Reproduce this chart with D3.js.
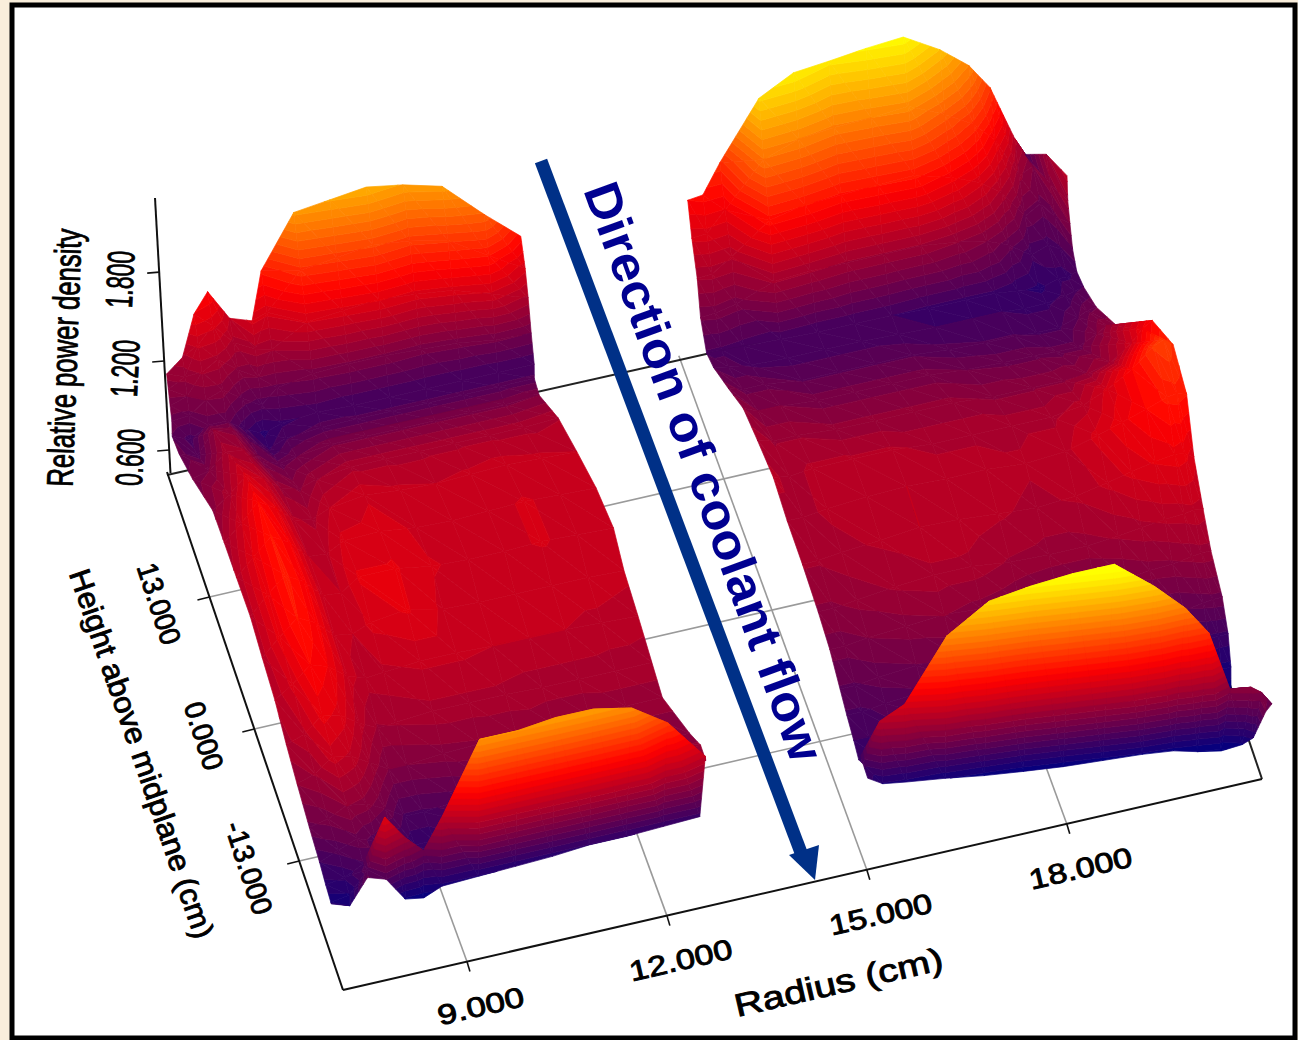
<!DOCTYPE html>
<html>
<head>
<meta charset="utf-8">
<style>
html, body { margin: 0; padding: 0; background: #f9eedb; }
svg { display: block; }
text { font-family: "Liberation Sans", Arial, sans-serif; fill: #000; }
</style>
<script src="https://cdn.jsdelivr.net/npm/d3@7"></script>
</head>
<body>
<svg id="chart" width="1298" height="1040"></svg>
<script>
// Axis ticks
const radiusTicks = [9, 12, 15, 18];
const heightTicks = [13, 0, -13];
const densityTicks = [0.6, 1.2, 1.8];

// Left plate: column fractions across the plate, heights of the inner rows (cm)
const leftColumns = [0, .05, .1, .15, .2, .25, .3, .4, .5, .6, .7, .8, .9, 1];
const leftHeights = [24, 22, 19, 15, 11, 7, 3, -1, -5, -9, -12, -15, -17, -18.5];
const leftBack = [28, 28.5, 30, 31.2, 30.4, 29, 31.3, 31.8, 31.8, 31.8, 31.8, 31, 29.5, 29.5];
const leftCrest = [-19.5, -19.5, -19.5, -19.5, -19.5, -19.5, -19.5, -20, -20, -20, -20, -20, -19.5, -19.5];
const leftFront = [-20.5, -20.5, -20.5, -20.5, -20.5, -20.5, -20.5, -20.5, -20.5, -20.5, -20.5, -20.5, -20.5, -20.5];
const leftInner = [7.33, 7.3, 7.27, 7.24, 7.19, 7.19, 7.24, 7.34, 7.31, 7.29, 7.29, 7.26, 7.24, 7.2, 7.2, 7.22, 7.26, 7.27, 7.29, 7.25];
const leftOuter = [12.69, 12.68, 12.65, 12.62, 12.59, 12.49, 12.41, 12.49, 12.56, 12.64, 12.69, 12.64, 12.64, 12.64, 12.64, 12.89, 12.95, 12.95, 12.89, 12.76];
const leftDensity = [
  [.95, 1.0, 1.16, 1.2, 1.05, 1.1, 1.25, 1.55, 1.58, 1.61, 1.57, 1.56, 1.42, 1.22],
  [.92, .95, 1.06, 1.1, 1.0, 1.0, 1.1, 1.3, 1.33, 1.36, 1.33, 1.32, 1.24, 1.1],
  [.88, .9, .98, 1.0, .93, .9, .98, 1.09, 1.11, 1.13, 1.11, 1.11, 1.08, 1.0],
  [.85, .85, .9, .92, .85, .8, .85, .88, .89, .89, .88, .88, .87, .86],
  [.82, .77, .84, .84, .76, .7, .74, .76, .75, .75, .75, .75, .75, .75],
  [.84, .8, .94, .92, .82, .74, .78, .8, .8, .8, .8, .8, .8, .8],
  [.87, .9, 1.0, .98, .88, .84, .86, .89, .89, .89, .89, .89, .89, .9],
  [.92, 1.0, 1.1, 1.05, .96, .93, .97, 1.0, 1.0, 1.0, 1.0, 1.0, 1.0, 1.01],
  [.98, 1.08, 1.2, 1.13, 1.02, 1.0, 1.05, 1.08, 1.06, 1.05, 1.06, 1.07, 1.06, 1.05],
  [1.02, 1.13, 1.24, 1.17, 1.05, 1.04, 1.1, 1.11, 1.08, 1.07, 1.08, 1.09, 1.08, 1.07],
  [1.03, 1.15, 1.25, 1.18, 1.06, 1.05, 1.13, 1.13, 1.09, 1.08, 1.08, 1.09, 1.08, 1.07],
  [1.03, 1.14, 1.24, 1.18, 1.07, 1.05, 1.1, 1.13, 1.08, 1.07, 1.07, 1.07, 1.07, 1.06],
  [1.02, 1.1, 1.2, 1.16, 1.07, 1.03, 1.04, 1.06, 1.06, 1.05, 1.05, 1.05, 1.04, 1.03],
  [1.0, 1.04, 1.14, 1.11, 1.03, .97, .98, 1.0, 1.0, 1.0, .99, .99, .99, .99],
  [.94, .98, 1.07, 1.04, .97, .9, .9, .92, .93, .94, .95, .95, .96, .96],
  [.85, .88, .94, .92, .86, .78, .78, .8, .84, .86, .88, .9, .9, .9],
  [.75, .8, .85, .8, .74, .72, .72, .78, .82, .84, .86, .88, .9, .95],
  [.7, .72, .78, .8, .78, .72, .72, .9, .9, .9, .9, .9, .9, .95],
  [.65, .67, .81, 1.13, .97, .85, 1.04, 1.54, 1.54, 1.57, 1.57, 1.52, 1.33, 1.05],
  [.71, .67, .83, .79, .63, .61, .66, .67, .68, .69, .71, .71, .72, .73]
];

// Right plate
const rightColumns = [0, .04, .1, .2, .3, .4, .5, .6, .7, .78, .84, .9, .95, .975, 1];
const rightHeights = [21, 19, 16, 13, 9, 5, 1, -3, -7, -10, -13, -15, -17, -18.5];
const rightBack = [29.6, 29.5, 31, 30.6, 31.4, 32, 32, 32, 32, 32, 32, 30.8, 32.5, 29.5, 26.3];
const rightCrest = [-19.5, -19.5, -19.7, -19.9, -20.2, -20.5, -20.9, -21.3, -21.7, -21.9, -22.2, -22.5, -22.9, -23.2, -23.5];
const rightFront = [-20.5, -20.5, -20.7, -20.9, -21.2, -21.5, -21.9, -22.3, -22.7, -22.9, -23.2, -23.5, -23.9, -24.2, -24.5];
const rightInner = [15.17, 15.12, 15.09, 15.03, 15.01, 15.01, 15.07, 15.14, 15.14, 15.17, 15.17, 15.19, 15.22, 15.24, 15.24, 15.24, 15.24, 15.24, 15.25, 15.27];
const rightOuter = [20.64, 20.59, 20.56, 20.54, 20.54, 20.54, 20.56, 20.69, 20.99, 21.08, 21.08, 21.0, 20.94, 20.91, 20.94, 20.94, 20.89, 20.82, 21.14, 20.99];
const rightDensity = [
  [1.2, 1.22, 1.3, 1.7, 1.76, 1.74, 1.77, 1.79, 1.65, 1.5, 1.32, 1.03, .78, .97, 1.03],
  [1.1, 1.11, 1.16, 1.46, 1.5, 1.49, 1.5, 1.52, 1.41, 1.3, 1.16, .95, .9, .92, .96],
  [.98, .99, 1.02, 1.22, 1.24, 1.23, 1.24, 1.25, 1.18, 1.1, 1.0, .85, .85, .85, .9],
  [.87, .88, .88, .98, .98, .97, .97, .97, .94, .9, .84, .76, .77, .78, .82],
  [.78, .78, .77, .76, .75, .75, .75, .74, .74, .74, .72, .7, .74, .74, .76],
  [.82, .8, .78, .77, .77, .77, .76, .75, .75, .75, .74, .74, .76, .78, .79],
  [.88, .85, .85, .82, .82, .82, .82, .8, .79, .79, .78, .78, .82, .85, .86],
  [.94, .9, .9, .88, .88, .88, .88, .86, .85, .85, .84, .84, .9, .94, .93],
  [1.0, .97, .97, .95, .95, .95, .95, .93, .93, .93, .94, .98, 1.08, 1.16, 1.2],
  [1.02, 1.0, 1.02, 1.02, 1.02, 1.0, 1.0, 1.0, 1.0, 1.03, 1.1, 1.2, 1.32, 1.35, 1.3],
  [1.0, 1.0, 1.02, 1.04, 1.05, 1.04, 1.04, 1.02, 1.04, 1.1, 1.15, 1.2, 1.25, 1.26, 1.24],
  [.98, .98, 1.0, 1.02, 1.05, 1.04, 1.02, 1.0, 1.02, 1.06, 1.1, 1.13, 1.15, 1.14, 1.1],
  [.93, .93, .95, .98, 1.0, 1.0, .97, .96, .96, .98, 1.0, 1.02, 1.03, 1.04, 1.03],
  [.88, .88, .9, .92, .94, .92, .9, .88, .88, .9, .92, .93, .95, .96, .96],
  [.82, .82, .84, .86, .87, .85, .84, .82, .8, .82, .82, .82, .84, .85, .85],
  [.78, .78, .8, .82, .84, .82, .8, .78, .76, .76, .74, .74, .74, .74, .74],
  [.75, .75, .78, .8, .8, .78, .76, .74, .72, .72, .7, .7, .68, .66, .66],
  [.72, .74, .76, .78, .78, .76, .74, .72, .7, .7, .68, .66, .64, .62, .62],
  [.76, 1.02, 1.11, 1.52, 1.71, 1.77, 1.82, 1.85, 1.67, 1.49, 1.31, .92, .93, .9, .83],
  [.73, .67, .66, .64, .62, .61, .61, .62, .63, .62, .6, .59, .63, .68, .86]
];

const wallFractions = [1, .75, .5, .25];
const bandCount = 32;

const svg = d3.select("#chart");

// Frame
svg.append("rect")
	.attr("x", 12).attr("y", 5).attr("width", 1283).attr("height", 1033)
	.attr("fill", "#fff").attr("stroke", "#000").attr("stroke-width", 5);

// Oblique projection, floor point plus height
const radiusX = d3.scaleLinear().domain([7.14, 20.93]).range([0, 919]);
const radiusY = d3.scaleLinear().domain([7.14, 20.93]).range([0, -211]);
const heightX = d3.scaleLinear().domain([-25.7, 25.3]).range([0, -176]);
const heightY = d3.scaleLinear().domain([-25.7, 25.3]).range([0, -518]);
const densityLift = d3.scaleLinear().domain([.5, 2.33]).range([0, 275]);
const originX = 343, originY = 990, leanCentre = 650, lean = .000115;

function project(r, h, z) {
	const fx = originX + radiusX(r) + heightX(h);
	const fy = originY + radiusY(r) + heightY(h);
	const lift = densityLift(z);
	return {x: fx + (fx - leanCentre) * lean * lift, y: fy - lift, z: z};
}

const colour = d3.scaleLinear()
	.domain([.6, 1.2, 1.8])
	.range(["#000080", "#ff0000", "#ffff00"])
	.clamp(true);
const bandSize = 1.2 / bandCount;

// Clip a polygon to lo <= z <= hi
function clipBand(poly, lo, hi) {
	function clip(pts, inside, level) {
		const out = [];
		pts.forEach((p, i) => {
			const q = pts[(i + 1) % pts.length];
			if (inside(p)) out.push(p);
			if (inside(p) !== inside(q)) {
				const t = (level - p.z) / (q.z - p.z);
				out.push({x: p.x + t * (q.x - p.x), y: p.y + t * (q.y - p.y), z: level});
			}
		});
		return out;
	}
	let res = clip(poly, p => p.z >= lo, lo);
	if (res.length) res = clip(res, p => p.z <= hi, hi);
	return res;
}

const gridLayer = svg.append("g").attr("class", "grid");
const surfaceLayer = svg.append("g").attr("class", "surface");
const axisLayer = svg.append("g").attr("class", "axes");

const rMin = 7.14, rMax = 20.93, hMin = -25.7, hMax = 25.3;

function line(g, a, b, stroke, width) {
	g.append("line")
		.attr("x1", a.x).attr("y1", a.y).attr("x2", b.x).attr("y2", b.y)
		.attr("stroke", stroke).attr("stroke-width", width);
}

// Floor grid, far ends pulled a little to follow the slight perspective
radiusTicks.forEach(r => {
	const far = project(r, hMax, .5);
	line(gridLayer, project(r, hMin, .5), {x: far.x - 12, y: far.y + 4}, "#9a9a9a", 1.6);
});
heightTicks.forEach(h => line(gridLayer, project(rMin, h, .5), project(rMax, h, .5), "#9a9a9a", 1.6));
const backLeft = project(rMin, hMax, .5), backMid = project(16, hMax, .5);
line(gridLayer, {x: backLeft.x, y: backLeft.y + 3}, {x: backMid.x, y: backMid.y + 6}, "#222", 2);
line(gridLayer, project(rMax, hMin, .5), project(rMax, -15, .5), "#222", 2);

// Surfaces, painted back to front
function drawPlate(columns, heights, back, crest, front, inner, outer, density) {
	const n = density.length;
	const valley = heights[0];
	const vertex = (i, j) => {
		let h;
		if (i < 4) h = valley + (back[j] - valley) * wallFractions[i];
		else if (i === n - 2) h = crest[j];
		else if (i === n - 1) h = front[j];
		else h = heights[i - 4];
		const r = inner[i] + (outer[i] - inner[i]) * columns[j];
		return project(r, h, density[i][j]);
	};
	const g = surfaceLayer.append("g");
	for (let i = 0; i < n - 1; i++) {
		for (let j = 0; j < columns.length - 1; j++) {
			const a = vertex(i, j), b = vertex(i, j + 1), c = vertex(i + 1, j + 1), d = vertex(i + 1, j);
			[[a, b, c], [a, c, d]].forEach(tri => {
				const zs = tri.map(p => p.z);
				const k0 = Math.floor((d3.min(zs) - .6) / bandSize);
				const k1 = Math.floor((d3.max(zs) - .6) / bandSize);
				for (let k = k0; k <= k1; k++) {
					const lo = .6 + k * bandSize, hi = lo + bandSize;
					const poly = clipBand(tri, lo, hi);
					if (poly.length < 3) continue;
					const col = colour(lo + bandSize / 2);
					g.append("path")
						.attr("d", d3.line().x(p => p.x).y(p => p.y)(poly) + "Z")
						.attr("fill", col)
						.attr("stroke", col)
						.attr("stroke-width", .7)
						.attr("stroke-linejoin", "round");
				}
			});
		}
	}
}

drawPlate(rightColumns, rightHeights, rightBack, rightCrest, rightFront, rightInner, rightOuter, rightDensity);
drawPlate(leftColumns, leftHeights, leftBack, leftCrest, leftFront, leftInner, leftOuter, leftDensity);

// Box edges
const corner = project(rMin, hMin, .5), cornerBack = project(rMin, hMax, .5), cornerRight = project(rMax, hMin, .5);
line(axisLayer, corner, cornerBack, "#111", 2);
line(axisLayer, corner, cornerRight, "#111", 2);

// Vertical axis, labelled on its own scale
const zAxisY = d3.scaleLinear().domain([.445, 2.3]).range([473, 198]);
const zAxisX = d3.scaleLinear().domain([.445, 2.3]).range([170.5, 155]);
line(axisLayer, {x: zAxisX(.445), y: zAxisY(.445)}, {x: zAxisX(2.3), y: zAxisY(2.3)}, "#111", 2);
densityTicks.forEach(v => {
	line(axisLayer, {x: zAxisX(v), y: zAxisY(v)}, {x: zAxisX(v) - 12, y: zAxisY(v) + 1}, "#111", 1.6);
});

// Ticks on the floor axes
radiusTicks.forEach(r => {
	const p = project(r, hMin, .5);
	line(axisLayer, p, {x: p.x + 3, y: p.y + 10}, "#111", 1.6);
});
heightTicks.forEach(h => {
	const p = project(rMin, h, .5);
	line(axisLayer, p, {x: p.x - 12, y: p.y + 3}, "#111", 1.6);
});

function label(str, x, y, angle, size, length) {
	axisLayer.append("text")
		.attr("transform", `translate(${x},${y}) rotate(${angle})`)
		.attr("text-anchor", "middle")
		.attr("font-size", size)
		.attr("textLength", length)
		.attr("lengthAdjust", "spacingAndGlyphs")
		.attr("stroke", "#000")
		.attr("stroke-width", .9)
		.text(str);
}

const radiusLabels = ["9.000", "12.000", "15.000", "18.000"];
radiusLabels.forEach((s, i) => {
	const p = project(radiusTicks[i], hMin, .5);
	label(s, p.x + 16, p.y + 54, -13, 28, i ? 105 : 88);
});
label("Radius (cm)", 841, 993, -13, 32, 213);

const heightLabels = ["13.000", "0.000", "-13.000"];
heightLabels.forEach((s, i) => {
	const p = project(rMin, heightTicks[i], .5);
	label(s, p.x - 60, p.y + 10, 72, 29, [84, 70, 96][i]);
});
label("Height above midplane (cm)", 132, 757, 71, 30, 388);

const densityLabels = ["0.600", "1.200", "1.800"];
densityLabels.forEach((s, i) => {
	const v = densityTicks[i];
	label(s, zAxisX(v) - 26, zAxisY(v) + 8, -87, 38, 57);
});
label("Relative power density", 77, 358, -88, 37, 258);

// Annotation
const arrowColour = "#003087";
svg.append("line")
	.attr("x1", 541).attr("y1", 161).attr("x2", 803).attr("y2", 858)
	.attr("stroke", arrowColour).attr("stroke-width", 13);
svg.append("path")
	.attr("d", "M789,855 L819,845 L815,880 Z")
	.attr("fill", arrowColour);
svg.append("text")
	.attr("transform", "translate(583,190) rotate(70)")
	.attr("font-size", 50)
	.attr("font-weight", 700)
	.attr("textLength", 612)
	.attr("lengthAdjust", "spacingAndGlyphs")
	.style("fill", "#000090")
	.text("Direction of coolant flow");
</script>
</body>
</html>
